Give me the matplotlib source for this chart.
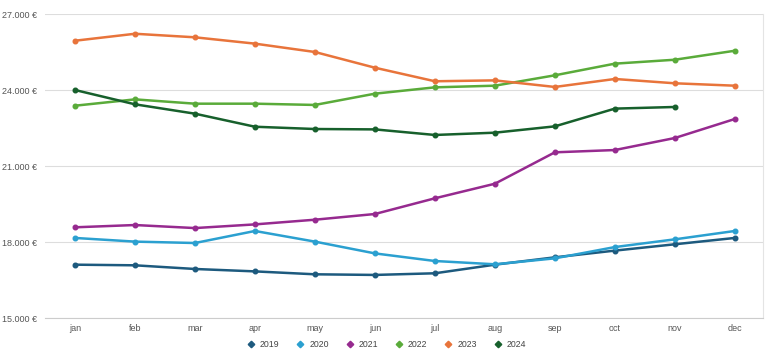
import matplotlib
matplotlib.use("Agg")
import matplotlib.pyplot as plt
from matplotlib.ticker import FuncFormatter

plt.rcParams["font.family"] = ["Liberation Sans", "DejaVu Sans"]

months = ["jan", "feb", "mar", "apr", "may", "jun", "jul", "aug", "sep", "oct", "nov", "dec"]
y2019 = [17105, 17080, 16935, 16840, 16725, 16700, 16765, 17105, 17395, 17660, 17910, 18160]
y2020 = [18160, 18015, 17960, 18435, 18015, 17550, 17250, 17120, 17355, 17800, 18105, 18435]
y2021 = [18580, 18670, 18550, 18695, 18880, 19105, 19725, 20300, 21540, 21630, 22105, 22855]
y2022 = [23380, 23630, 23460, 23460, 23410, 23855, 24105, 24170, 24580, 25040, 25195, 25550]
y2023 = [25945, 26220, 26080, 25830, 25500, 24880, 24345, 24380, 24120, 24435, 24265, 24170]
y2024 = [24000, 23435, 23065, 22550, 22460, 22445, 22225, 22315, 22565, 23265, 23330]
years = ["2019", "2020", "2021", "2022", "2023", "2024"]
series = [y2019, y2020, y2021, y2022, y2023, y2024]
colors = ["#1d5a7e", "#2ba0d0", "#962a8f", "#5aab3a", "#e8743b", "#17602c"]
yticks = [15000, 18000, 21000, 24000, 27000]

fig = plt.figure(figsize=(7.68, 3.5), dpi=100)
ax = fig.add_axes([45/768, 1-318/350, 718/768, (318-14)/350])

for name, vals, c in zip(years, series, colors):
    ax.plot(range(len(vals)), vals, color=c, lw=1.8, marker="o", ms=3.3,
            label=name, zorder=3)

ax.set_xlim(-0.5, 11.47)
ax.set_ylim(15000, 27000)
ax.set_xticks(range(12))
ax.set_xticklabels(months)
ax.set_yticks(yticks)
ax.yaxis.set_major_formatter(FuncFormatter(lambda v, p: f"{int(v):,} €".replace(",", ".")))
ax.grid(axis="y", color="#dddddd", lw=0.8, zorder=0)
for s in ["top", "left"]:
    ax.spines[s].set_visible(False)
ax.spines["right"].set_color("#e4e4e4")
ax.spines["bottom"].set_color("#cccccc")
ax.tick_params(axis="both", length=0, labelsize=6.5, colors="#555555")
ax.tick_params(axis="x", pad=4)
for lbl in ax.get_yticklabels():
    lbl.set_horizontalalignment("left")
ax.tick_params(axis="y", pad=31)

handles = [plt.Line2D([], [], color=c, marker="D", ms=3.3, lw=0) for c in colors]
fig.legend(handles, years, loc="center", bbox_to_anchor=(0.503, 1-344.5/350), ncol=6,
           frameon=False, fontsize=6.3, handlelength=1.0, handletextpad=0.5,
           columnspacing=1.9, labelcolor="#444444", borderpad=0)

fig.savefig("out.png", dpi=100)
